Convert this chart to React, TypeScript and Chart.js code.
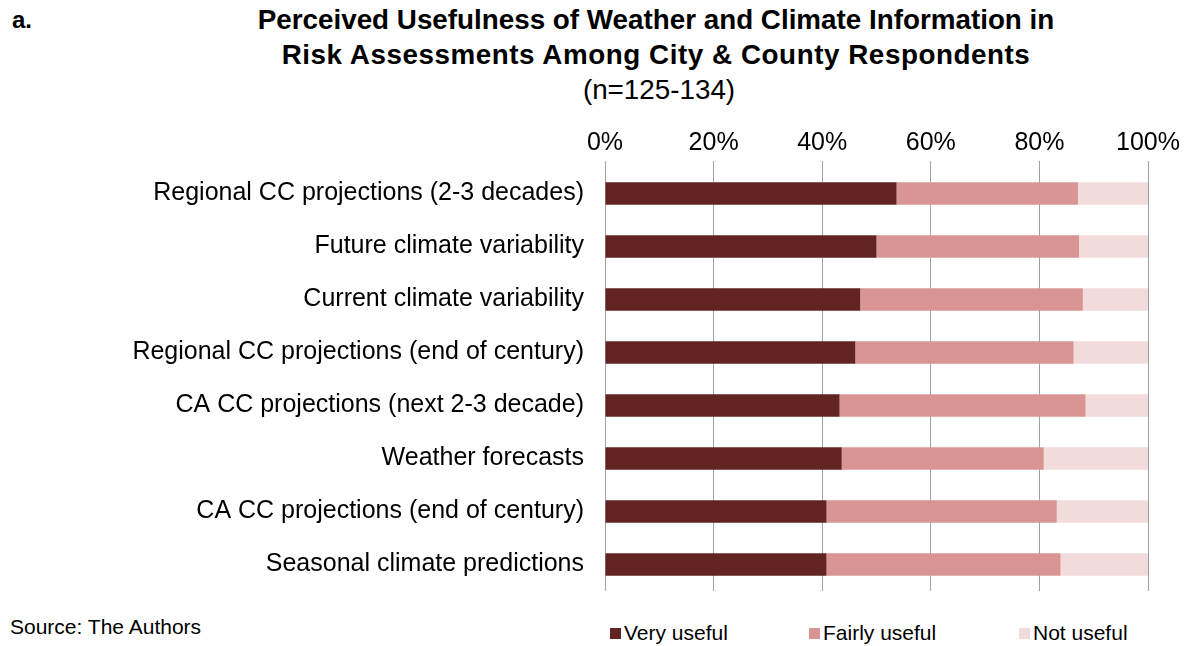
import React, { useEffect, useRef } from "react";
import { Chart, registerables } from "chart.js";

Chart.register(...registerables);

const categories = [
  "Regional CC projections (2-3 decades)",
  "Future climate variability",
  "Current climate variability",
  "Regional CC projections (end of century)",
  "CA CC projections (next 2-3 decade)",
  "Weather forecasts",
  "CA CC projections (end of century)",
  "Seasonal climate predictions",
];

const veryUseful = [53.7, 50.0, 47.0, 46.1, 43.2, 43.6, 40.8, 40.8];
const fairlyUseful = [33.4, 37.3, 41.0, 40.2, 45.3, 37.2, 42.4, 43.1];
const notUseful = [12.9, 12.7, 12.0, 13.7, 11.5, 19.2, 16.8, 16.1];

const seriesNames = ["Very useful", "Fairly useful", "Not useful"];
const seriesColors = ["#622423", "#D99594", "#F2DCDB"];
const xTicks = [0, 20, 40, 60, 80, 100];

const FONT = "'Liberation Sans', Arial, sans-serif";

export default function App() {
  const canvasRef = useRef<HTMLCanvasElement | null>(null);

  useEffect(() => {
    if (!canvasRef.current) return;
    const chart = new Chart(canvasRef.current, {
      type: "bar",
      data: {
        labels: categories,
        datasets: [veryUseful, fairlyUseful, notUseful].map((d, i) => ({
          label: seriesNames[i],
          data: d,
          backgroundColor: seriesColors[i],
          borderWidth: 0,
          barPercentage: 0.42,
          categoryPercentage: 1,
        })),
      },
      options: {
        indexAxis: "y",
        animation: false,
        responsive: false,
        maintainAspectRatio: false,
        layout: { padding: { left: 0, right: 37, top: 0, bottom: 9 } },
        plugins: {
          legend: { display: false },
          tooltip: { enabled: false },
          title: { display: false },
        },
        scales: {
          x: {
            position: "top",
            stacked: true,
            min: 0,
            max: 100,
            afterBuildTicks: (scale: any) => {
              scale.ticks = xTicks.map((v) => ({ value: v }));
            },
            afterFit: (scale: any) => {
              scale.height = 57;
            },
            ticks: {
              callback: (v: any) => v + "%",
              color: "#000",
              padding: 3,
              font: { family: FONT, size: 25 },
              maxRotation: 0,
            },
            grid: {
              color: "#A0A0A0",
              lineWidth: 1,
              tickLength: 6,
              drawTicks: true,
            },
            border: { display: false },
          },
          y: {
            stacked: true,
            afterFit: (scale: any) => {
              scale.width = 605;
              scale.paddingTop = 0;
              scale.paddingBottom = 0;
            },
            ticks: {
              color: "#000",
              padding: 21,
              font: { family: FONT, size: 25 },
              autoSkip: false,
            },
            grid: { display: false, drawTicks: false },
            border: { display: false },
          },
        },
      },
    });
    return () => chart.destroy();
  }, []);

  const legendPos = [610, 809, 1019];

  return (
    <div
      style={{
        position: "absolute",
        left: 0,
        top: 0,
        width: 1185,
        height: 646,
        background: "#fff",
        fontFamily: FONT,
        color: "#000",
        overflow: "hidden",
      }}
    >
      <div
        style={{
          position: "absolute",
          left: 12,
          top: 5,
          fontWeight: "bold",
          fontSize: 24,
          lineHeight: "30px",
        }}
      >
        a.
      </div>
      <div
        style={{
          position: "absolute",
          left: 156,
          width: 1000,
          top: 2,
          textAlign: "center",
          fontSize: 27.8,
          lineHeight: "35px",
          whiteSpace: "nowrap",
        }}
      >
        <div style={{ fontWeight: "bold" }}>
          Perceived Usefulness of Weather and Climate Information in
        </div>
        <div style={{ fontWeight: "bold", letterSpacing: "0.55px" }}>
          Risk Assessments Among City &amp; County Respondents
        </div>
        <div style={{ marginLeft: 6 }}>(n=125-134)</div>
      </div>
      <canvas
        ref={canvasRef}
        width={1185}
        height={490}
        style={{ position: "absolute", left: 0, top: 110, width: 1185, height: 490 }}
      />
      <div
        style={{
          position: "absolute",
          left: 10,
          top: 614,
          fontSize: 21,
          lineHeight: "26px",
        }}
      >
        Source: The Authors
      </div>
      {seriesNames.map((name, i) => (
        <div
          key={name}
          style={{
            position: "absolute",
            left: legendPos[i],
            top: 620,
            height: 26,
            display: "flex",
            alignItems: "center",
            fontSize: 21,
            lineHeight: "26px",
            whiteSpace: "nowrap",
          }}
        >
          <span
            style={{
              display: "inline-block",
              width: 11,
              height: 11,
              background: seriesColors[i],
              marginRight: 3,
            }}
          />
          {name}
        </div>
      ))}
    </div>
  );
}
